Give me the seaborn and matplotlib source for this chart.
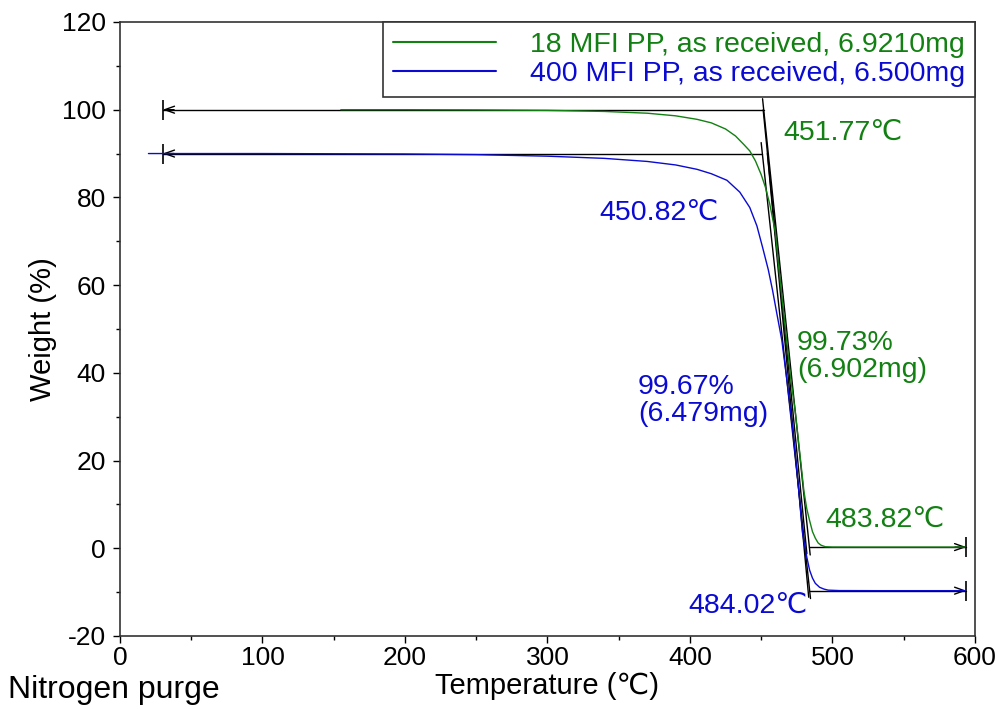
import numpy as np
import pandas as pd
import matplotlib
matplotlib.use("Agg")
import matplotlib.pyplot as plt
import seaborn as sns

# ---- data ----
green_T = [155, 200, 250, 300, 340, 370, 390, 405, 415, 425, 432, 438, 442, 446, 450, 453, 456, 460, 462, 465,
           468, 471, 474, 477, 480, 482, 484, 486, 488, 490, 492, 495, 500, 520, 560, 593]
green_W = [100.0, 100.0, 99.95, 99.85, 99.6, 99.2, 98.6, 97.8, 97.0, 95.6, 94.0, 92.0, 90.6, 88.3, 85.2, 82.3, 78.5,
           72.0, 65.0, 56.0, 47.0, 38.0, 31.0, 22.0, 13.0, 9.0, 6.3, 3.8, 2.3, 1.2, 0.7, 0.35, 0.28, 0.27, 0.27, 0.27]

blue_T = [20, 50, 100, 150, 200, 250, 300, 340, 370, 390, 405, 415, 426, 435, 442, 447, 451, 455, 458, 461, 464.5,
          468, 472, 476, 479, 482, 484, 486, 488, 491, 494, 497, 505, 530, 560, 593]
blue_W = [90.0, 90.0, 90.0, 89.95, 89.9, 89.75, 89.4, 88.9, 88.2, 87.4, 86.4, 85.4, 83.9, 81.2, 77.7, 73.5, 68.6,
          63.5, 58.8, 53.5, 47.4, 38.5, 27.5, 14.5, 3.5, -2.0, -5.0, -6.8, -8.0, -8.9, -9.3, -9.55, -9.65, -9.67,
          -9.67, -9.67]

series_labels = ["18 MFI PP, as received, 6.9210mg", "400 MFI PP, as received, 6.500mg"]
series_colors = ["#128012", "#0a0ad2"]

onset_T = [451.77, 450.82]
endset_T = [483.82, 484.02]
upper_W = [100.0, 90.0]
lower_W = [0.27, -9.67]
loss_text = ["99.73%\n(6.902mg)", "99.67%\n(6.479mg)"]
baseline_start = 30
baseline_stop = 594

onset_lbl_pos = [(465.3, 94.8), (336.8, 76.4)]
loss_lbl_pos = [(475.0, 43.8), (363.5, 33.7)]
end_lbl_pos = [(495.4, 6.4), (398.6, -13.2)]

# ---- style ----
sns.set_style("ticks")
plt.rcParams["font.family"] = ["Liberation Sans", "DejaVu Sans"]
plt.rcParams["axes.unicode_minus"] = False
plt.rcParams["text.color"] = "black"
plt.rcParams["axes.labelcolor"] = "black"
plt.rcParams["xtick.color"] = "black"
plt.rcParams["ytick.color"] = "black"

fig = plt.figure(figsize=(10.03, 7.09), dpi=100)
ax = fig.add_axes([0.1196, 0.103, 0.8524, 0.866])

df = pd.concat([
    pd.DataFrame({"T": green_T, "W": green_W, "s": series_labels[0]}),
    pd.DataFrame({"T": blue_T, "W": blue_W, "s": series_labels[1]}),
])

# baselines, arrows, tangents
for i in range(2):
    c = "black"
    ax.plot([baseline_start, onset_T[i]], [upper_W[i], upper_W[i]], color=c, lw=1.0, zorder=2)
    ax.plot([endset_T[i], baseline_stop], [lower_W[i], lower_W[i]], color=c, lw=1.0, zorder=2)
    ax.plot([baseline_start], [upper_W[i]], marker="|", ms=14, mew=1.2, color=c, zorder=3)
    ax.plot([baseline_stop], [lower_W[i]], marker="|", ms=14, mew=1.2, color=c, zorder=3)
    ax.annotate("", xy=(baseline_start, upper_W[i]), xytext=(baseline_start + 8, upper_W[i]),
                arrowprops=dict(arrowstyle="->,head_length=0.7,head_width=0.25", lw=1.0, color=c,
                                shrinkA=0, shrinkB=0), zorder=3)
    ax.annotate("", xy=(baseline_stop, lower_W[i]), xytext=(baseline_stop - 8, lower_W[i]),
                arrowprops=dict(arrowstyle="->,head_length=0.7,head_width=0.25", lw=1.0, color=c,
                                shrinkA=0, shrinkB=0), zorder=3)
    # step line from onset to endset
    slope = (lower_W[i] - upper_W[i]) / (endset_T[i] - onset_T[i])
    y0, y1 = upper_W[i] + 2.5, lower_W[i] - 1.8
    ax.plot([onset_T[i] + (y0 - upper_W[i]) / slope, onset_T[i] + (y1 - upper_W[i]) / slope], [y0, y1],
            color=c, lw=1.0, zorder=2)
    # inflection tangent from the data
    T = np.array(green_T if i == 0 else blue_T, float)
    W = np.array(green_W if i == 0 else blue_W, float)
    g = np.gradient(W, T)
    k = int(np.argmin(g))
    s2 = g[k]
    ax.plot([T[k] + (upper_W[i] - W[k]) / s2, T[k] + (lower_W[i] - 1.5 - W[k]) / s2],
            [upper_W[i], lower_W[i] - 1.5], color=c, lw=1.0, zorder=2)

sns.lineplot(data=df, x="T", y="W", hue="s", palette=series_colors, lw=1.0, ax=ax, zorder=4,
             sort=False, estimator=None)

fs = 20.5
for i in range(2):
    col = series_colors[i]
    ax.text(*onset_lbl_pos[i], f"{onset_T[i]:.2f}\u2103", color=col, fontsize=fs, va="center", ha="left")
    ax.text(*loss_lbl_pos[i], loss_text[i], color=col, fontsize=fs, va="center", ha="left", linespacing=1.05)
    ax.text(*end_lbl_pos[i], f"{endset_T[i]:.2f}\u2103", color=col, fontsize=fs, va="center", ha="left")

ax.set_xlim(0, 600)
ax.set_ylim(-20, 120)
ax.set_xticks(np.arange(0, 601, 100))
ax.set_xticks(np.arange(0, 601, 50), minor=True)
ax.set_yticks(np.arange(-20, 121, 20))
ax.set_yticks(np.arange(-20, 121, 10), minor=True)
ax.tick_params(axis="both", which="major", direction="out", length=5, width=1, labelsize=19)
ax.tick_params(axis="y", which="major", pad=5)
ax.tick_params(axis="x", which="major", pad=2)
ax.tick_params(axis="both", which="minor", direction="out", length=3, width=1)
for sp in ax.spines.values():
    sp.set_visible(True)
    sp.set_color("#333333")
    sp.set_linewidth(1.2)

ax.set_xlabel("Temperature (\u2103)", fontsize=21, labelpad=2)
ax.set_ylabel("Weight (%)", fontsize=21, labelpad=4)
fig.text(0.008, 0.027, "Nitrogen purge", fontsize=23, ha="left", va="center")

leg = ax.legend(loc="upper right", borderaxespad=0, frameon=True, fancybox=False, edgecolor="#333333",
                fontsize=fs, handlelength=3.6, handletextpad=1.2, labelcolor="linecolor",
                borderpad=0.35, labelspacing=0.1, title=None)
leg.get_frame().set_linewidth(1.2)
leg.get_frame().set_alpha(1)
for h in leg.get_lines():
    h.set_linewidth(1.5)

fig.savefig("out.png", dpi=100)
